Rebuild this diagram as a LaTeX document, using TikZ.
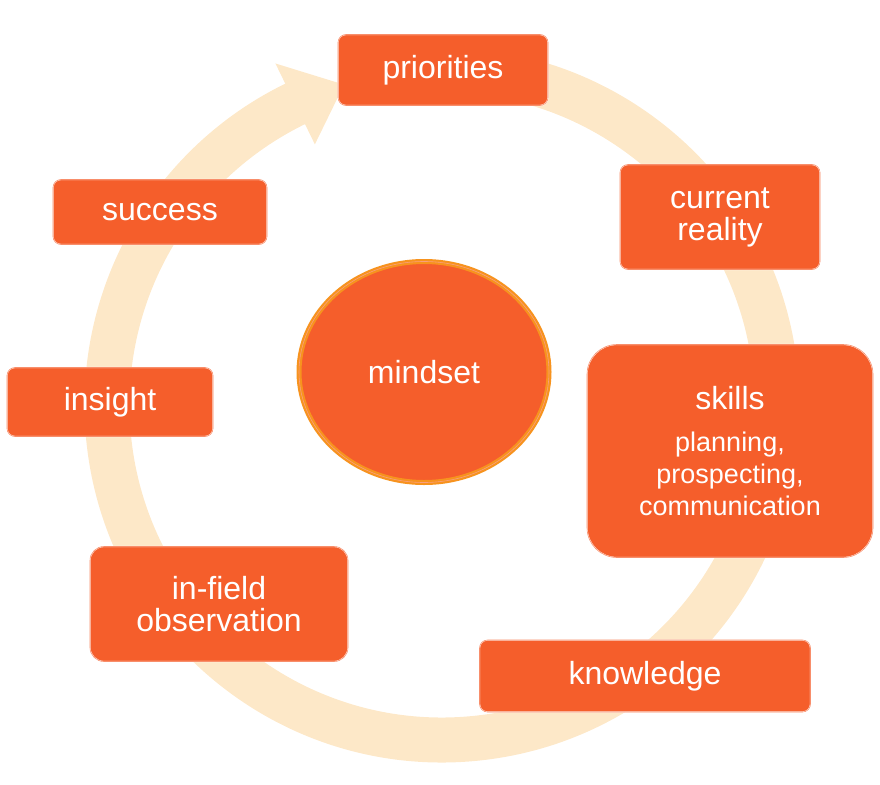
\documentclass[tikz,border=0pt]{standalone}
\usepackage{fontspec}
\setmainfont{Liberation Sans}
\usetikzlibrary{shapes.geometric}
\definecolor{ring}{HTML}{FDE8C8}
\definecolor{box}{HTML}{F55E2B}
\definecolor{gold}{HTML}{F7931E}
\begin{document}
\begin{tikzpicture}[x=1pt,y=-1pt,
  stepbox/.style={draw=white,line width=1.2pt,fill=box,rounded corners=8pt,text=white,font=\fontsize{32}{36}\selectfont,align=center,inner sep=0pt,
    postaction={draw=box!70!white,line width=0.6pt}}]
\useasboundingbox (0,0) rectangle (880,784);
% ring
\coordinate (c) at (442,405);
\draw[ring,line width=45pt] ([shift={(-95:335)}]c) arc[start angle=-95,end angle=245,radius=335];
\fill[ring] ([shift={(-116:380)}]c) -- ([shift={(-107:335)}]c) -- ([shift={(-116:290)}]c) -- cycle;
% boxes
\node[stepbox,minimum width=210pt,minimum height=71pt] (p) at (443,70) {priorities};
\node[stepbox,minimum width=200pt,minimum height=105pt] (cr) at (720,217) {current\\[-4pt]reality};
\node[stepbox,minimum width=286pt,minimum height=213pt,rounded corners=30pt] (sk) at (730,451) {skills\\[6pt]{\fontsize{27}{30}\selectfont planning,}\\[-4pt]{\fontsize{27}{30}\selectfont prospecting,}\\[-4pt]{\fontsize{27}{30}\selectfont communication}};
\node[stepbox,minimum width=331pt,minimum height=72pt] (kn) at (645,676) {knowledge};
\node[stepbox,minimum width=258pt,minimum height=115pt,rounded corners=14pt] (ifo) at (219,604) {in-field\\[-4pt]observation};
\node[stepbox,minimum width=206pt,minimum height=69pt] (in) at (110,402) {insight};
\node[stepbox,minimum width=214pt,minimum height=65pt] (su) at (160,212) {success};
\node[ellipse,draw=gold,line width=5pt,fill=box,minimum width=250pt,minimum height=221pt,text=white,font=\fontsize{32}{36}\selectfont,
  postaction={draw=box!60!white,line width=0.6pt}] (m) at (424,372) {mindset};
\end{tikzpicture}
\end{document}
